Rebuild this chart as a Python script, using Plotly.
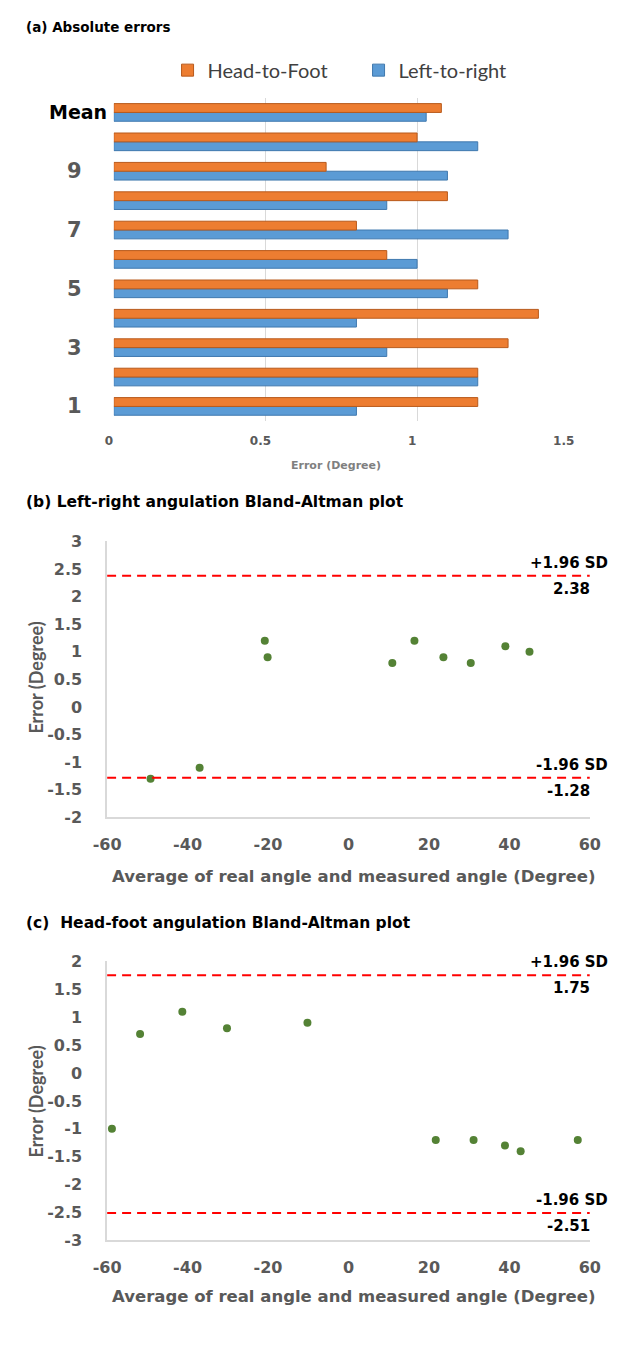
import plotly.graph_objects as go

# ---------------- data ----------------
categories = ["1", "2", "3", "4", "5", "6", "7", "8", "9", "10", "Mean"]
head_to_foot = [1.2, 1.2, 1.3, 1.4, 1.2, 0.9, 0.8, 1.1, 0.7, 1.0, 1.08]
left_to_right = [0.8, 1.2, 0.9, 0.8, 1.1, 1.0, 1.3, 0.9, 1.1, 1.2, 1.03]
a_xticks = [0, 0.5, 1, 1.5]

lr_avg = [-49.2, -37.0, -20.8, -20.1, 10.9, 16.4, 23.6, 30.4, 39.0, 45.0]
lr_err = [-1.3, -1.1, 1.2, 0.9, 0.8, 1.2, 0.9, 0.8, 1.1, 1.0]
lr_limits = [2.38, -1.28]
lr_yticks = [3, 2.5, 2, 1.5, 1, 0.5, 0, -0.5, -1, -1.5, -2]

hf_avg = [-58.8, -51.8, -41.3, -30.2, -10.2, 21.7, 31.1, 38.9, 42.8, 57.0]
hf_err = [-1.0, 0.7, 1.1, 0.8, 0.9, -1.2, -1.2, -1.3, -1.4, -1.2]
hf_limits = [1.75, -2.51]
hf_yticks = [2, 1.5, 1, 0.5, 0, -0.5, -1, -1.5, -2, -2.5, -3]

ba_xticks = [-60, -40, -20, 0, 20, 40, 60]
limit_names = ["+1.96 SD", "-1.96 SD"]

# ---------------- styling ----------------
W, H = 621, 1351
FONT = "Lato"
WIDE = "DejaVu Sans"
GREY = "#595959"
ORANGE = "#ED7D31"
BLUE = "#5B9BD5"
GREEN = "#548235"

def px(x):
    return x / W

def py(y):
    return 1 - y / H

def fmt(v):
    return f"{v:g}"

fig = go.Figure()

# Panel (a): bars (LR first so that HF sits on top in each group)
fig.add_trace(go.Bar(
    y=categories, x=left_to_right, orientation="h", name="Left-to-right",
    marker=dict(color=BLUE, line=dict(color="#3F78AE", width=1)),
    xaxis="x", yaxis="y", legendrank=2))
fig.add_trace(go.Bar(
    y=categories, x=head_to_foot, orientation="h", name="Head-to-Foot",
    marker=dict(color=ORANGE, line=dict(color="#B85A1C", width=1)),
    xaxis="x", yaxis="y", legendrank=1))

# Panel (b)
fig.add_trace(go.Scatter(
    x=lr_avg, y=lr_err, mode="markers", showlegend=False,
    marker=dict(color=GREEN, size=8), xaxis="x2", yaxis="y2"))
# Panel (c)
fig.add_trace(go.Scatter(
    x=hf_avg, y=hf_err, mode="markers", showlegend=False,
    marker=dict(color=GREEN, size=8), xaxis="x3", yaxis="y3"))

tickfont_b = dict(family=WIDE, size=16, color=GREY, weight="bold")

common_ba_x = dict(range=[-60, 60], tickvals=ba_xticks,
                   ticktext=[fmt(v) for v in ba_xticks],
                   showgrid=False, zeroline=False, showline=True,
                   linecolor="#D9D9D9", linewidth=1.5, ticks="",
                   tickfont=tickfont_b, ticklabelstandoff=12)
common_ba_y = dict(showgrid=False, zeroline=False, showline=True,
                   linecolor="#D9D9D9", linewidth=1.5, ticks="",
                   tickfont=tickfont_b, ticklabelstandoff=20)

layout = dict(
    width=W, height=H, autosize=False,
    margin=dict(l=0, r=0, t=0, b=0),
    paper_bgcolor="white", plot_bgcolor="white",
    barmode="group", bargap=0.4, bargroupgap=0,
    font=dict(family=FONT, color=GREY),
    legend=dict(orientation="h", x=px(160), xanchor="left",
                y=py(62), yanchor="middle",
                entrywidth=146, entrywidthmode="pixels",
                font=dict(family=FONT, size=20, color="#404040"),
                bgcolor="rgba(0,0,0,0)"),
    xaxis=dict(domain=[px(104), px(578)], range=[0, 1.5],
               tickvals=a_xticks, ticktext=[fmt(v) for v in a_xticks],
               showgrid=True, gridcolor="#D9D9D9", zeroline=False,
               showline=False, ticks="", anchor="y",
               tickfont=dict(family=WIDE, size=12, color=GREY, weight="bold"),
               ticklabelstandoff=11, ticklabelshift=-5),
    yaxis=dict(domain=[py(418), py(90)], type="category",
               showticklabels=False, showgrid=False, zeroline=False,
               anchor="x"),
    xaxis2=dict(domain=[px(97), px(600)], anchor="y2", **common_ba_x),
    yaxis2=dict(domain=[py(820), py(540)], range=[-2, 3],
                tickvals=lr_yticks, ticktext=[fmt(v) for v in lr_yticks],
                anchor="x2", **common_ba_y),
    xaxis3=dict(domain=[px(97), px(600)], anchor="y3", **common_ba_x),
    yaxis3=dict(domain=[py(1249), py(966)], range=[-3, 2],
                tickvals=hf_yticks, ticktext=[fmt(v) for v in hf_yticks],
                anchor="x3", **common_ba_y),
)
fig.update_layout(**layout)

ann = []
# panel titles
for text, y, size in [("(a) Absolute errors", 18, 13.5),
                      ("(b) Left-right angulation Bland-Altman plot", 500, 15.5),
                      ("(c)&nbsp; Head-foot angulation Bland-Altman plot", 927, 15.5)]:
    ann.append(dict(text=f"<b>{text}</b>", xref="paper", yref="paper",
                    x=px(10), y=py(y), xanchor="left", yanchor="middle",
                    showarrow=False,
                    font=dict(family=WIDE, size=size, color="black")))

# category labels for panel (a): every other category (positioned by category index)
for i, c in enumerate(categories):
    if i % 2 != 0:
        continue
    if c == "Mean":
        ann.append(dict(text=f"<b>{c}</b>", xref="paper", yref="y", x=px(99), y=i,
                        xanchor="right", yanchor="middle", showarrow=False,
                        font=dict(family=WIDE, size=19, color="black")))
    else:
        ann.append(dict(text=f"<b>{c}</b>", xref="paper", yref="y", x=px(63), y=i,
                        xanchor="center", yanchor="middle", showarrow=False,
                        font=dict(family=WIDE, size=21, color=GREY)))

# axis titles
ann.append(dict(text="<b>Error (Degree)</b>", xref="paper", yref="paper",
                x=px(335), y=py(463), xanchor="center", yanchor="middle",
                showarrow=False, font=dict(family=WIDE, size=11, color="#7F7F7F")))
for yc in [880, 1306]:
    ann.append(dict(text="<b>Average of real angle and measured angle (Degree)</b>",
                    xref="paper", yref="paper", x=px(354), y=py(yc),
                    xanchor="center", yanchor="middle", showarrow=False,
                    font=dict(family=WIDE, size=16.5, color=GREY)))
for yc in [678, 1108]:
    ann.append(dict(text="<b>Error (Degree)</b>", xref="paper", yref="paper",
                    x=px(23), y=py(yc), xanchor="center", yanchor="middle",
                    textangle=-90, showarrow=False,
                    font=dict(family=FONT, size=18, color=GREY)))

# limit lines + labels
shapes = []
for xr, yr, limits in [("x2", "y2", lr_limits), ("x3", "y3", hf_limits)]:
    for name, val in zip(limit_names, limits):
        shapes.append(dict(type="line", xref=xr, yref=yr, x0=-60, x1=60,
                           y0=val, y1=val,
                           line=dict(color="#FF0000", width=2, dash="9px,6px")))
        ann.append(dict(text=f"<b>{name}</b>", xref="paper", yref=yr,
                        x=1, y=val, xanchor="right", yanchor="middle",
                        yshift=13, showarrow=False,
                        font=dict(family=WIDE, size=15, color="black")))
        ann.append(dict(text=f"<b>{val:.2f}</b>", xref=xr, yref=yr,
                        x=60, y=val, xanchor="right", yanchor="middle",
                        xshift=2, yshift=-13, showarrow=False,
                        font=dict(family=WIDE, size=15, color="black")))

fig.update_layout(annotations=ann, shapes=shapes)
fig.write_html("out.html", config={"displayModeBar": False},
               post_script="document.body.style.margin='0';")
